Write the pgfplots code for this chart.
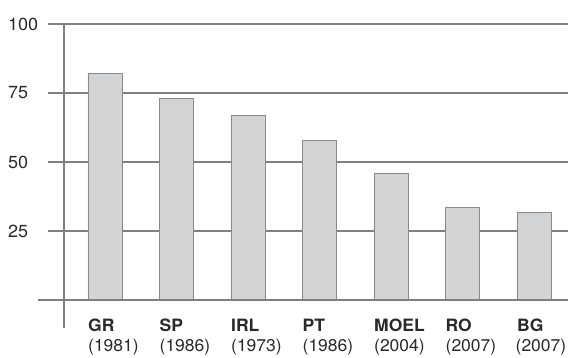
\documentclass[border=0pt]{standalone}
\usepackage{pgfplots}
\pgfplotsset{compat=1.18}
\usepackage{fontspec}
\setmainfont[FakeStretch=1.03]{TeX Gyre Heros}
\definecolor{gridgray}{HTML}{808080}
\definecolor{barfill}{HTML}{D2D3D5}
\definecolor{barline}{HTML}{8A8A8A}
\definecolor{txt}{HTML}{2A2A2A}
\begin{document}
\begin{tikzpicture}
\begin{axis}[
  scale only axis, width=520pt, height=276pt,
  xmin=-0.797, xmax=6.476, ymin=0, ymax=100,
  clip=false,
  axis line style={draw=none},
  major tick length=0pt,
  ytick={25,50,75,100},
  ymajorgrids, grid style={gridgray, line width=1.6pt},
  /pgf/number format/assume math mode=true,
  yticklabel style={anchor=west, inner sep=0pt, xshift=-40pt, text=txt,
    font=\fontsize{17.5}{20}\selectfont},
  xtick={0,1,2,3,4,5,6},
  xticklabels={{\textbf{GR}\\(1981)},{\textbf{SP}\\(1986)},{\textbf{IRL}\\(1973)},
    {\textbf{PT}\\(1986)},{\textbf{MOEL}\\(2004)},{\textbf{RO}\\(2007)},{\textbf{BG}\\\hspace*{-1.5pt}(2007)}},
  xticklabel style={align=left, anchor=north west, inner sep=0pt, xshift=-17pt, yshift=-18.5pt,
    text=txt, font=\fontsize{17}{20}\selectfont},
]
\addplot[ybar, bar width=34pt, fill=barfill, draw=barline, line width=0.9pt]
  coordinates {(0,82.2) (1,73.0) (2,67.0) (3,57.9) (4,45.8) (5,33.4) (6,31.9)};
\draw[gridgray, line width=1.6pt] (rel axis cs:-0.0192,0) -- (rel axis cs:1,0);
\draw[gridgray, line width=1.7pt] (rel axis cs:0.03077,1) -- (rel axis cs:0.03077,-0.1014);
\coordinate (bbsw) at (rel axis cs:-0.0923,-0.2065);
\coordinate (bbne) at (rel axis cs:1,1.087);
\end{axis}
\pgfresetboundingbox
\useasboundingbox (bbsw) rectangle (bbne);
\end{tikzpicture}
\end{document}
